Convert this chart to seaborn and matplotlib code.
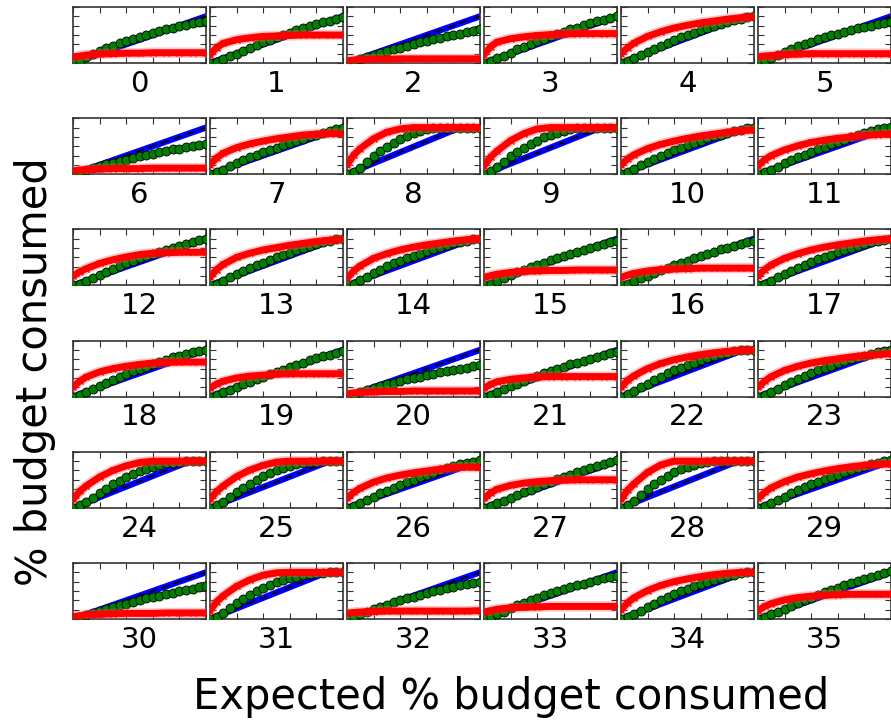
import numpy as np
import matplotlib
matplotlib.use("Agg")
import matplotlib.pyplot as plt
import seaborn as sns

# ----------------------------------------------------
# data (fractions of budget)
# ----------------------------------------------------
panel_labels = [str(i) for i in range(36)]

green_x = [0.0, 0.05, 0.1, 0.15, 0.2, 0.25, 0.3, 0.35, 0.4, 0.45, 0.5,
           0.55, 0.6, 0.65, 0.7, 0.75, 0.8, 0.85, 0.9, 0.95, 1.0]
red_x = [0.0, 0.05, 0.1, 0.2, 0.3, 0.4, 0.5, 0.6, 0.7, 0.8, 0.9, 1.0]

# x where the expected (blue) line reaches 100 %
expected_end = [1.0, 1.0, 1.0, 1.0, 0.93, 1.0,
                1.0, 1.0, 0.85, 0.88, 0.95, 1.0,
                1.0, 0.95, 0.95, 1.0, 1.0, 0.97,
                1.0, 1.0, 1.0, 1.0, 0.92, 0.97,
                0.88, 0.9, 1.0, 1.0, 0.88, 1.0,
                1.0, 0.88, 1.0, 1.0, 0.93, 1.0]

green_vals = [
    [0, .04, .12, .19, .26, .32, .37, .42, .47, .52, .56, .60, .64, .68, .72, .76, .79, .82, .85, .88, .90],
    [0, .03, .08, .14, .20, .26, .32, .38, .44, .50, .55, .60, .65, .70, .74, .79, .83, .87, .91, .95, .98],
    [0, .05, .09, .13, .17, .21, .25, .29, .33, .37, .40, .44, .47, .51, .54, .57, .60, .63, .66, .69, .72],
    [0, .04, .10, .16, .22, .29, .35, .41, .47, .52, .57, .62, .67, .72, .76, .81, .85, .89, .93, .97, 1.0],
    [0, .04, .10, .17, .24, .31, .37, .43, .49, .55, .60, .65, .70, .75, .79, .84, .88, .92, .95, .98, 1.0],
    [0, .04, .10, .17, .24, .30, .36, .41, .46, .51, .55, .59, .63, .67, .70, .74, .77, .80, .83, .86, .88],
    [0, .04, .08, .13, .17, .21, .24, .28, .31, .35, .38, .41, .44, .47, .50, .53, .55, .58, .60, .63, .65],
    [0, .04, .10, .17, .24, .30, .36, .42, .47, .52, .57, .62, .67, .72, .76, .81, .85, .89, .93, .97, 1.0],
    [0, .05, .13, .26, .38, .49, .58, .67, .75, .82, .88, .93, .96, .98, .99, 1.0, 1.0, 1.0, 1.0, 1.0, 1.0],
    [0, .06, .15, .27, .38, .48, .56, .65, .72, .79, .84, .89, .93, .96, .98, .99, 1.0, 1.0, 1.0, 1.0, 1.0],
    [0, .04, .11, .19, .26, .33, .39, .45, .51, .57, .62, .67, .72, .77, .81, .85, .89, .92, .95, .98, 1.0],
    [0, .04, .10, .16, .23, .30, .36, .42, .48, .54, .59, .64, .69, .74, .79, .84, .88, .92, .96, .99, 1.02],
    [0, .04, .10, .16, .22, .29, .35, .41, .47, .53, .58, .63, .67, .72, .76, .81, .85, .89, .93, .97, 1.0],
    [0, .04, .10, .17, .24, .31, .37, .43, .49, .55, .60, .65, .70, .75, .80, .84, .88, .92, .96, .99, 1.0],
    [0, .04, .11, .19, .27, .34, .41, .47, .53, .58, .63, .68, .73, .78, .82, .86, .90, .93, .96, .99, 1.0],
    [0, .04, .10, .16, .22, .28, .33, .39, .44, .49, .54, .59, .63, .68, .72, .76, .80, .84, .88, .92, .95],
    [0, .04, .09, .15, .21, .27, .32, .38, .43, .48, .53, .58, .63, .68, .72, .77, .81, .85, .89, .93, .96],
    [0, .04, .10, .17, .24, .31, .38, .44, .50, .56, .61, .66, .71, .76, .80, .84, .88, .92, .95, .98, 1.0],
    [0, .04, .10, .16, .23, .30, .36, .42, .48, .54, .59, .64, .69, .74, .79, .84, .88, .92, .95, .98, 1.0],
    [0, .04, .10, .15, .21, .27, .32, .38, .43, .48, .53, .58, .63, .68, .73, .78, .82, .86, .90, .94, .98],
    [0, .04, .09, .14, .18, .22, .26, .30, .33, .37, .40, .43, .46, .49, .52, .55, .57, .60, .62, .65, .67],
    [0, .04, .10, .16, .22, .28, .34, .40, .45, .50, .55, .60, .64, .69, .73, .77, .81, .85, .89, .93, .96],
    [0, .05, .12, .20, .28, .36, .43, .50, .56, .62, .68, .73, .78, .83, .87, .91, .94, .97, .99, 1.0, 1.0],
    [0, .04, .10, .17, .24, .31, .38, .44, .50, .56, .61, .66, .71, .76, .80, .84, .88, .92, .95, .98, 1.0],
    [0, .05, .12, .22, .32, .41, .50, .58, .65, .72, .78, .83, .88, .92, .95, .97, .99, 1.0, 1.0, 1.0, 1.0],
    [0, .05, .12, .23, .33, .43, .52, .60, .68, .74, .80, .85, .90, .93, .96, .98, .99, 1.0, 1.0, 1.0, 1.0],
    [0, .04, .10, .17, .24, .31, .37, .43, .49, .55, .60, .65, .70, .75, .80, .85, .89, .93, .96, .99, 1.02],
    [0, .04, .10, .15, .21, .27, .33, .39, .45, .51, .56, .61, .66, .71, .76, .81, .85, .90, .94, .98, 1.02],
    [0, .06, .15, .28, .40, .51, .60, .69, .76, .83, .88, .92, .96, .98, 1.0, 1.0, 1.0, 1.0, 1.0, 1.0, 1.0],
    [0, .04, .10, .17, .24, .31, .38, .44, .50, .56, .61, .66, .71, .76, .81, .86, .90, .94, .97, 1.0, 1.02],
    [0, .04, .08, .13, .17, .21, .25, .29, .33, .37, .40, .44, .47, .50, .53, .56, .59, .62, .65, .68, .70],
    [0, .05, .13, .24, .34, .43, .52, .60, .67, .73, .79, .84, .88, .91, .94, .96, .98, .99, 1.0, 1.0, 1.0],
    [0, .05, .10, .16, .21, .26, .31, .36, .40, .44, .48, .52, .56, .60, .63, .66, .69, .72, .74, .77, .79],
    [0, .04, .10, .16, .23, .29, .35, .41, .46, .51, .55, .60, .64, .68, .72, .76, .80, .84, .87, .90, .92],
    [0, .04, .11, .18, .26, .33, .40, .47, .53, .59, .64, .70, .75, .80, .84, .88, .92, .95, .98, 1.0, 1.0],
    [0, .04, .10, .16, .22, .28, .34, .40, .46, .52, .57, .62, .67, .72, .77, .82, .86, .91, .95, .99, 1.02],
]

red_vals = [
    [.13, .15, .17, .19, .20, .21, .21, .22, .22, .22, .22, .22],
    [.18, .33, .42, .50, .54, .57, .58, .59, .60, .60, .60, .60],
    [.05, .06, .07, .08, .08, .09, .09, .09, .09, .09, .09, .09],
    [.18, .35, .45, .52, .56, .59, .61, .62, .63, .63, .63, .63],
    [.20, .33, .43, .57, .67, .75, .81, .86, .90, .94, .97, .99],
    [.13, .15, .16, .18, .19, .20, .20, .20, .20, .20, .20, .20],
    [.07, .09, .10, .11, .12, .12, .12, .13, .13, .13, .13, .13],
    [.20, .35, .45, .57, .65, .71, .76, .80, .84, .86, .87, .87],
    [.20, .41, .55, .76, .90, .97, 1.0, 1.0, 1.0, 1.0, 1.0, 1.0],
    [.18, .37, .50, .72, .87, .97, 1.0, 1.0, 1.0, 1.0, 1.0, 1.0],
    [.20, .33, .42, .55, .64, .71, .77, .82, .86, .90, .93, .95],
    [.18, .31, .40, .52, .61, .68, .73, .77, .80, .83, .85, .86],
    [.20, .29, .36, .47, .55, .61, .66, .69, .70, .71, .71, .71],
    [.18, .34, .45, .60, .69, .76, .81, .86, .90, .94, .97, .99],
    [.15, .31, .42, .58, .68, .76, .82, .87, .91, .95, .98, 1.0],
    [.17, .21, .24, .28, .30, .31, .32, .32, .33, .33, .33, .33],
    [.17, .22, .26, .31, .34, .35, .36, .37, .37, .37, .37, .37],
    [.20, .34, .44, .58, .68, .76, .82, .87, .91, .95, .98, 1.0],
    [.20, .33, .42, .53, .60, .65, .69, .72, .73, .74, .74, .74],
    [.18, .27, .33, .40, .44, .46, .48, .49, .49, .49, .49, .49],
    [.06, .08, .09, .10, .11, .11, .12, .12, .12, .12, .12, .12],
    [.18, .26, .32, .37, .40, .42, .43, .43, .43, .43, .43, .43],
    [.20, .35, .45, .60, .71, .79, .85, .90, .94, .97, .99, 1.0],
    [.20, .33, .43, .56, .65, .72, .77, .81, .85, .88, .90, .92],
    [.18, .35, .47, .66, .80, .90, .97, 1.0, 1.0, 1.0, 1.0, 1.0],
    [.18, .35, .47, .67, .81, .91, .98, 1.0, 1.0, 1.0, 1.0, 1.0],
    [.20, .33, .42, .55, .64, .70, .75, .79, .83, .86, .87, .87],
    [.20, .32, .40, .48, .53, .56, .58, .59, .60, .60, .60, .60],
    [.18, .38, .52, .76, .92, 1.0, 1.0, 1.0, 1.0, 1.0, 1.0, 1.0],
    [.20, .33, .43, .56, .66, .73, .79, .84, .88, .91, .93, .94],
    [.05, .07, .09, .10, .11, .12, .12, .12, .13, .13, .13, .13],
    [.18, .37, .50, .70, .84, .94, .99, 1.0, 1.0, 1.0, 1.0, 1.0],
    [.12, .14, .15, .16, .17, .17, .17, .17, .17, .17, .17, .18],
    [.15, .18, .21, .24, .25, .26, .27, .27, .27, .27, .27, .27],
    [.20, .35, .46, .61, .72, .80, .86, .91, .95, .98, 1.0, 1.0],
    [.18, .27, .33, .41, .46, .49, .51, .52, .53, .53, .53, .53],
]

# ----------------------------------------------------
# figure
# ----------------------------------------------------
sns.set_style("ticks")
plt.rcParams['font.family'] = ['DejaVu Sans']
plt.rcParams['text.color'] = 'black'

W, H = 891, 721
fig = plt.figure(figsize=(W / 100, H / 100), dpi=100)

for i in range(36):
    r, c = divmod(i, 6)
    left = 73 + 137 * c
    top = 7 + 111.2 * r
    ax = fig.add_axes([left / W, 1 - (top + 56) / H, 133 / W, 56 / H])

    e = expected_end[i]
    bx = [0.0, e, 1.0] if e < 1 else [0.0, 1.0]
    by = [0.0, 1.0, 1.0] if e < 1 else [0.0, 1.0]

    # expected line (blue) with the ideal dashed line on top
    sns.lineplot(x=bx, y=by, ax=ax, color='b', lw=4.5, sort=False, estimator=None, zorder=1)
    sns.lineplot(x=bx, y=by, ax=ax, color='k', lw=1.2, sort=False, estimator=None,
                 zorder=2).lines[-1].set_dashes([5, 3])
    # actual consumption (green circles)
    sns.lineplot(x=green_x, y=green_vals[i], ax=ax, color='g', lw=0, marker='o',
                 markersize=6.5, markerfacecolor='g', markeredgecolor='k', markeredgewidth=0.6,
                 sort=False, estimator=None, zorder=3)
    # other series (red band)
    sns.lineplot(x=red_x, y=red_vals[i], ax=ax, color='#ff6060', lw=7.5, alpha=0.35,
                 sort=False, estimator=None, zorder=4)
    sns.lineplot(x=red_x, y=red_vals[i], ax=ax, color='r', lw=5, marker='x',
                 markersize=4, markeredgecolor='r', markeredgewidth=1,
                 sort=False, estimator=None, zorder=5)

    ax.set_xlim(0, 1)
    ax.set_ylim(0, 1.2)
    ax.set_xticks([0, 0.2, 0.4, 0.6, 0.8, 1.0])
    ax.set_yticks([0, 0.2, 0.4, 0.6, 0.8, 1.0, 1.2])
    ax.tick_params(direction='in', top=True, right=True, length=4, width=0.8,
                   color='#333333', labelbottom=False, labelleft=False)
    ax.set_xlabel('')
    ax.set_ylabel('')
    for s in ax.spines.values():
        s.set_color('#333333')
        s.set_linewidth(1.2)
    ax.text(0.5, -0.12, panel_labels[i], transform=ax.transAxes, ha='center', va='top',
            fontsize=21, color='black')

fig.text(511 / W, 1 - 697 / H, 'Expected % budget consumed', ha='center', va='center',
         fontsize=30, color='black')
fig.text(35 / W, 1 - 372 / H, '% budget consumed', ha='center', va='center', rotation=90,
         fontsize=30, color='black')

fig.savefig("out.png", dpi=100)
